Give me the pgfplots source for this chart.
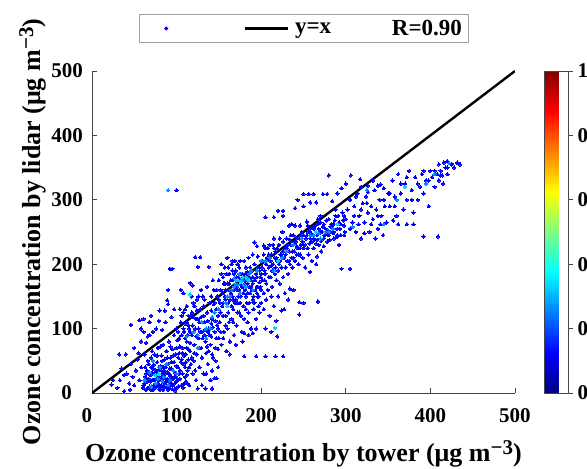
\documentclass[border=0pt]{standalone}
\usepackage{fontspec}
\setmainfont{Liberation Serif}
\usepackage{pgfplots}
\pgfplotsset{compat=1.18}
\definecolor{axgray}{RGB}{70,70,70}
\definecolor{lgdgray}{RGB}{160,160,160}
\definecolor{ptblue}{RGB}{0,0,255}
\definecolor{ptlight}{RGB}{0,135,255}
\definecolor{ptcyan}{RGB}{0,215,255}
\pgfplotsset{/pgf/number format/assume math mode=true}
\begin{document}
\begin{tikzpicture}
\begin{axis}[
  at={(0pt,0pt)}, anchor=south west,
  scale only axis, width=423pt, height=322pt,
  xmin=0, xmax=500, ymin=0, ymax=500,
  axis x line*=bottom, axis y line*=left,
  xtick={100,200,300,400,500}, ytick={100,200,300,400,500},
  extra x ticks={0}, extra y ticks={0},
  extra x tick style={xticklabel style={xshift=-5pt}},
  extra y tick style={yticklabel style={xshift=-11pt}},
  tick align=inside, major tick length=5pt,
  axis line style={draw=axgray, line width=0.8pt},
  every tick/.style={draw=axgray, line width=0.8pt},
  tick label style={font=\fontsize{21}{21}\selectfont\bfseries, text=black},
  xticklabel style={anchor=base, yshift=-29pt},
  yticklabel style={anchor=east, inner xsep=0pt, xshift=-9pt},
  xlabel={Ozone concentration by tower (μg m\raisebox{7pt}{\fontsize{21}{21}\selectfont −3})},
  ylabel={Ozone concentration by lidar (μg m\raisebox{7pt}{\fontsize{21}{21}\selectfont −3})},
  xlabel style={at={(axis description cs:0.5,-0.2112)}, anchor=base, font=\fontsize{26}{26}\selectfont\bfseries},
  ylabel style={at={(axis description cs:-0.1229,0.5)}, anchor=base, font=\fontsize{26}{26}\selectfont\bfseries},
  colormap/jet, colorbar, point meta min=0, point meta max=1,
  colorbar style={at={(parent axis.north east)}, anchor=north west, xshift=21pt,
    scale only axis, width=24pt, height=322pt,
    ytick={0,0.2,0.4,0.6,0.8,1}, ytick pos=right, yticklabel pos=right,
    tick align=outside, major tick length=4pt,
    axis line style={draw=axgray, line width=0.8pt},
    every tick/.style={draw=axgray, line width=0.8pt},
    yticklabel style={anchor=west, inner xsep=0pt, xshift=5pt, font=\fontsize{21}{21}\selectfont\bfseries}},
  legend columns=3,
  legend style={at={(axis description cs:0.501,1.132)}, anchor=center,
    draw=lgdgray, line width=0.8pt, inner xsep=6pt, inner ysep=5pt,
    font=\fontsize{23}{23}\selectfont\bfseries,
    column sep=0pt, nodes={inner sep=0pt}},
]
\addplot[only marks, color=ptblue, mark=*, mark size=1.7pt, mark options={draw=ptblue, fill=ptblue, line width=0pt},
  legend image code/.code={\path (0pt,-8pt) (96pt,8pt); \fill[ptblue] (20pt,0pt) circle (1.6pt);}]
coordinates {
(23,13)(25,20)(30,8)(33,20)(35,38)(38,28)(41,30)(44,15)(46,45)(48,25)(50,12)(52,35)(54,52)(56,20)(58,40)(32,60)(40,60)(46,106)(56,113)(50,70)(55,62)(58,80)(45,5)(38,3)
(60,8)(62,15)(63,25)(64,5)(65,35)(66,18)(67,45)(68,10)(69,28)(70,55)(70,5)(71,20)(72,38)(73,12)(74,60)(74,30)(75,8)(76,22)(77,48)(78,15)(78,70)(79,35)(80,5)(80,25)(81,42)(82,12)(82,58)(83,30)(84,18)(84,75)(85,8)(85,40)(86,52)(87,22)(88,10)(88,65)(89,33)(90,5)(90,45)(91,18)(91,80)(92,28)(93,55)(93,12)(94,38)(95,6)(95,68)(96,22)(97,48)(97,90)(98,15)(98,32)(99,60)(100,8)(100,42)(100,100)(66,88)(72,95)(76,100)(83,98)(87,110)(62,60)(64,78)(68,90)(58,100)(61,115)(70,120)(79,112)(86,128)(90,138)(94,118)(97,130)(68,110)(61,95)
(92,193)(95,193)(90,160)(89,144)(80,128)(116,171)(119,167)(122,211)(128,211)(125,196)(138,196)(105,160)(108,155)(100,315)
(101,20)(102,55)(103,85)(104,35)(105,110)(106,12)(107,70)(108,45)(109,95)(110,25)(110,130)(111,60)(112,80)(113,15)(114,105)(115,40)(116,65)(117,120)(118,90)(119,30)(120,50)(120,140)(121,75)(122,100)(123,20)(124,60)(125,115)(126,85)(127,40)(128,130)(129,70)(130,95)(130,55)(131,150)(132,30)(133,110)(134,80)(135,62)(136,125)(137,45)(138,100)(139,140)(140,75)(140,20)(141,88)(142,115)(143,55)(144,160)(145,95)(146,70)(147,130)(148,105)(149,40)(150,85)(150,145)
(104,130)(108,125)(112,135)(118,150)(124,145)(100,70)(106,90)(115,100)(127,110)(133,90)(138,65)(142,35)(146,50)(149,120)(122,35)(116,78)(111,48)(135,30)(130,12)(145,23)
(151,110)(152,160)(153,75)(154,135)(155,180)(156,95)(157,150)(158,120)(159,65)(160,170)(160,100)(161,140)(162,185)(163,80)(164,155)(165,115)(166,175)(167,130)(168,90)(169,165)(170,145)(170,190)(171,105)(172,160)(173,180)(174,125)(175,170)(176,150)(177,95)(178,185)(179,135)(180,175)(180,115)(181,160)(182,195)(183,140)(184,170)(185,125)(186,180)(187,155)(188,100)(189,190)(190,145)(190,170)(191,130)(192,200)(193,160)(194,115)(195,180)(196,150)(197,135)(198,190)(199,165)(200,140)
(152,125)(156,170)(158,145)(162,110)(164,175)(166,150)(168,185)(172,140)(174,195)(176,120)(178,165)(182,150)(184,110)(186,165)(188,175)(192,140)(194,185)(196,165)(198,125)(155,85)(163,60)(170,75)(178,80)(185,90)(194,100)(153,200)(160,210)(166,205)(172,200)
(201,175)(202,205)(203,155)(204,190)(205,225)(206,170)(207,210)(208,160)(209,195)(210,230)(211,180)(212,215)(213,165)(214,200)(215,240)(216,185)(217,220)(218,175)(219,205)(220,190)(221,230)(222,170)(223,215)(224,195)(225,250)(226,180)(227,210)(228,225)(229,195)(230,240)(231,205)(232,185)(233,220)(234,200)(235,230)(236,210)(237,195)(238,245)(239,220)(240,205)(241,235)(242,215)(243,225)(244,200)(245,240)(246,215)(247,230)(248,250)(249,210)(250,225)
(203,130)(206,145)(210,120)(212,150)(215,135)(218,112)(220,150)(224,128)(205,100)(212,95)(219,88)(227,130)(232,145)(238,160)(245,122)(250,140)(228,155)(234,162)(267,142)(245,141)
(180,93)(190,93)(180,57)(194,57)(205,57)(217,57)(226,57)(125,7)(134,7)(142,7)(147,23)
(192,234)(195,228)(203,229)(205,273)(215,273)(220,283)(226,283)(226,275)(233,260)(240,260)(246,260)(254,266)(236,262)(250,290)(243,300)(240,287)
(250,309)(256,309)(262,309)(273,309)(278,309)(258,296)(265,296)(267,270)(270,275)
(252,230)(254,245)(256,215)(258,255)(260,235)(262,225)(264,260)(266,245)(268,230)(270,265)(272,250)(274,240)(276,255)(278,235)(280,270)(282,250)(284,260)(286,240)(288,275)(290,255)(292,265)(294,245)(296,280)(298,260)(300,270)
(256,250)(262,240)(268,255)(274,228)(280,245)(286,262)(292,230)(298,245)(260,205)(266,212)(271,220)(252,195)(258,188)(265,200)
(280,338)(306,338)(284,298)(290,310)(288,285)(295,318)(300,325)(295,193)(305,193)
(302,285)(305,300)(308,265)(310,290)(312,250)(314,310)(316,275)(318,240)(320,295)(322,265)(324,305)(326,280)(328,250)(330,290)(332,270)(334,315)(336,285)(338,255)(340,300)(342,275)(344,245)(346,290)(348,265)(350,310)
(312,305)(318,320)(326,312)(332,330)(338,322)(345,318)(305,255)(315,262)(322,248)(335,240)(341,262)(317,332)(326,322)(341,324)
(352,290)(355,330)(358,305)(360,275)(362,340)(365,310)(368,285)(370,325)(372,300)(375,345)(378,315)(380,280)(382,335)(385,300)(388,320)(390,340)(392,310)(395,330)(398,290)(400,345)(402,335)(405,320)(408,340)(410,330)(412,345)(415,325)(418,350)(420,340)(425,355)(428,350)(432,358)(435,355)(392,243)(409,243)(356,268)(362,262)(372,262)(380,262)(410,355)(414,338)
(416,358)(420,360)(425,356)(432,357)
(61,12)(63,40)(65,22)(66,50)(67,8)(69,18)(71,32)(72,5)(73,44)(75,36)(76,12)(77,28)(79,20)(81,8)(82,35)(83,50)(84,5)(86,15)(86,30)(87,40)(89,22)(89,55)(91,8)(92,38)(93,25)(94,48)(96,12)(96,58)(98,4)(99,25)(101,40)(102,10)(103,62)(104,22)(105,48)(107,30)(108,8)(109,58)(110,40)(111,18)(112,70)(113,35)(114,52)(115,12)
(102,95)(104,72)(106,120)(108,100)(110,85)(112,110)(114,68)(116,95)(118,55)(120,118)(121,62)(123,88)(124,128)(126,100)(127,70)(129,118)(131,85)(132,135)(134,98)(136,72)(137,112)(139,90)(141,128)(142,60)(143,102)(144,138)(146,112)(147,85)(148,150)(149,68)
(151,140)(152,95)(154,155)(155,120)(157,170)(158,105)(159,185)(161,125)(162,160)(163,145)(165,135)(166,190)(167,110)(168,160)(169,140)(171,180)(172,125)(173,150)(175,140)(176,185)(177,165)(179,155)(181,185)(182,130)(183,175)(184,155)(186,140)(187,195)(189,160)(190,180)(191,150)(193,175)(195,165)(196,195)(197,150)(199,180)(200,160)
(201,195)(203,215)(204,175)(206,200)(208,225)(209,180)(211,205)(213,190)(214,230)(216,210)(217,195)(219,225)(221,200)(222,240)(224,215)(226,235)(229,215)(231,230)(233,205)(235,245)(237,220)(239,235)(242,240)(244,215)(247,245)(249,235)
(253,240)(255,260)(257,232)(259,248)(261,258)(263,238)(265,232)(267,262)(269,248)(271,236)(273,258)(275,245)(277,268)(279,252)(281,238)(283,262)(285,248)(287,268)(289,242)(291,275)(293,255)(297,268)(299,250)
(118,125)(121,135)(126,150)(129,160)(133,145)(136,165)(141,150)(143,175)(147,160)(150,175)(153,185)(157,195)(161,195)(165,200)(169,205)(175,205)(180,205)(185,210)(190,215)(196,212)
(110,108)(114,120)(119,105)(123,115)(128,95)(132,120)(137,95)(141,108)(145,140)(149,100)
(155,140)(158,160)(162,170)(167,145)(171,165)(174,160)(177,178)(181,170)(184,188)(188,165)(192,175)(195,155)(198,172)(200,185)
(205,185)(209,215)(212,198)(215,225)(218,210)(222,205)(226,220)(230,225)(234,238)(238,210)(242,228)(246,225)(250,245)
(255,225)(258,240)(262,255)(266,238)(270,252)(274,262)(278,248)(282,258)(286,250)(290,245)(294,262)(298,275)
(64,30)(67,22)(70,40)(73,20)(76,32)(79,10)(82,22)(85,35)(88,18)(91,30)(94,15)(97,25)(100,18)(103,30)(106,52)(109,15)(112,28)(77,58)(71,65)(81,72)(93,72)(101,82)(107,62)(113,90)(117,45)
(310,275)(318,285)(325,295)(330,262)(338,275)(345,300)(352,310)(358,290)(365,325)(372,335)(378,300)(385,325)(392,345)(398,330)(405,345)(412,338)(420,350)
};
\addlegendentry{\mbox{}}
\addplot[only marks, color=ptlight, mark=*, mark size=1.7pt, mark options={draw=ptlight, fill=ptlight, line width=0pt}, forget plot]
coordinates {
(62,20)(68,32)(75,15)(80,40)(85,25)(90,12)(96,35)(72,50)(88,45)(70,10)
(120,95)(125,70)(130,110)(135,85)(140,100)(145,125)(112,88)(150,130)
(165,160)(170,170)(175,155)(178,175)(182,165)(186,185)(190,160)(168,178)(160,150)(174,185)
(205,205)(215,190)(225,210)(238,230)(262,245)(270,240)(276,250)(285,255)
(325,315)(360,300)(395,325)(405,340)(422,357)(308,258)(345,262)(90,315)
(172,168)(176,175)(180,168)(184,178)(168,165)(163,150)(158,140)(188,190)(195,190)(200,205)(210,210)(230,220)(248,240)(258,245)(268,248)(280,250)(78,22)(83,18)(92,20)(100,30)(125,90)(135,100)(142,118)
};
\addplot[only marks, color=ptcyan, mark=*, mark size=1.7pt, mark options={draw=ptcyan, fill=ptcyan, line width=0pt}, forget plot]
coordinates {
(116,153)(178,180)(172,175)(185,175)(220,205)(265,250)(75,28)(160,135)(216,101)(370,320)(290,262)(176,172)(182,180)(79,30)
};
\addplot[black, line width=2.4pt,
  legend image code/.code={\path (0pt,-8pt) (49pt,8pt); \draw[black, line width=2.4pt] (0pt,0pt) -- (43pt,0pt);}]
coordinates {(0,0) (500,500)};
\addlegendentry{y=x}
\addlegendimage{legend image code/.code={\path (0pt,-8pt) (60pt,8pt);}}
\addlegendentry{R=0.90}
\end{axis}
\pgfresetboundingbox
\path[use as bounding box] (-92pt,-76pt) rectangle (495pt,393pt);
\end{tikzpicture}
\end{document}
